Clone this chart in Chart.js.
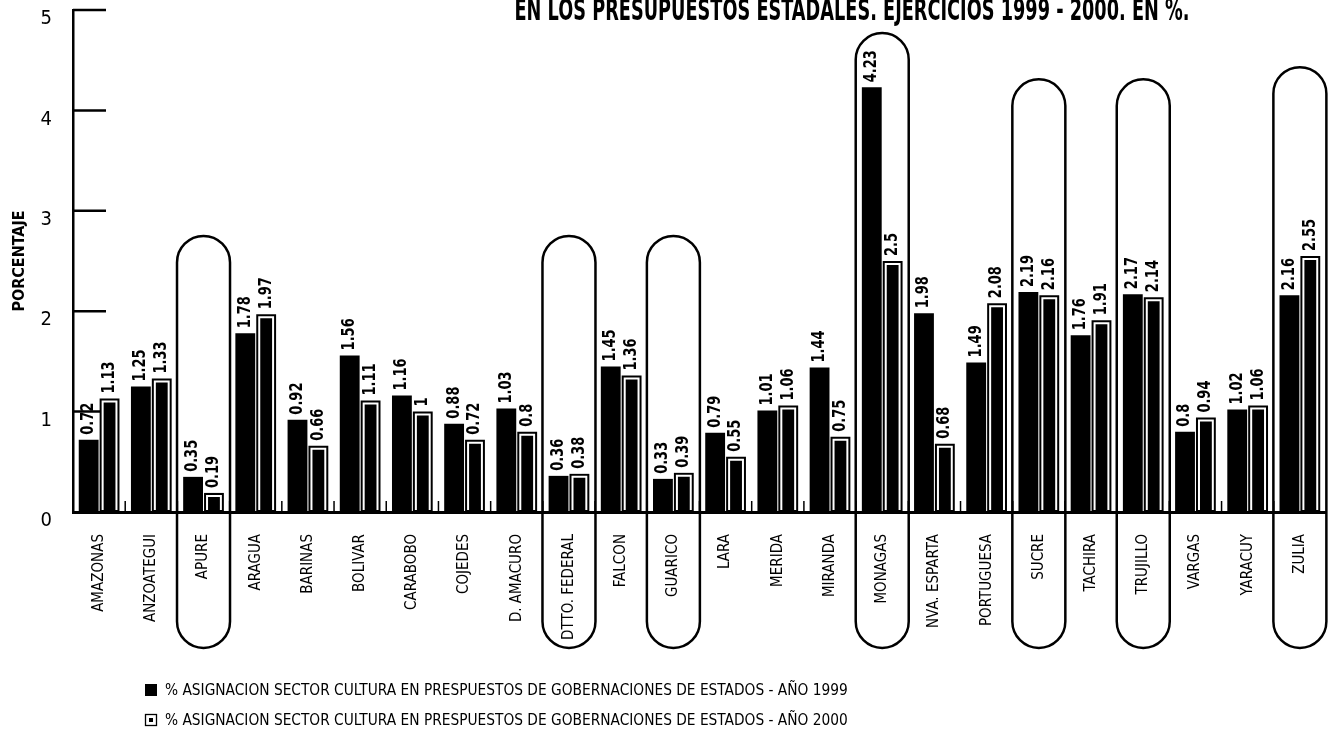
<!DOCTYPE html>
<html>
<head>
<meta charset="utf-8">
<script src="https://cdn.jsdelivr.net/npm/chart.js@4.4.1/dist/chart.umd.min.js"></script>
<style>
html,body{margin:0;padding:0;background:#fff;}
#wrap{position:relative;width:1332px;height:743px;overflow:hidden;}
</style>
</head>
<body>
<div id="wrap"><canvas id="c" width="1332" height="743"></canvas></div>
<script>
const categories = ['AMAZONAS','ANZOATEGUI','APURE','ARAGUA','BARINAS','BOLIVAR','CARABOBO','COJEDES','D. AMACURO','DTTO. FEDERAL','FALCON','GUARICO','LARA','MERIDA','MIRANDA','MONAGAS','NVA. ESPARTA','PORTUGUESA','SUCRE','TACHIRA','TRUJILLO','VARGAS','YARACUY','ZULIA'];
const values1999 = [0.72,1.25,0.35,1.78,0.92,1.56,1.16,0.88,1.03,0.36,1.45,0.33,0.79,1.01,1.44,4.23,1.98,1.49,2.19,1.76,2.17,0.8,1.02,2.16];
const values2000 = [1.13,1.33,0.19,1.97,0.66,1.11,1,0.72,0.8,0.38,1.36,0.39,0.55,1.06,0.75,2.5,0.68,2.08,2.16,1.91,2.14,0.94,1.06,2.55];
const yTicks = [0,1,2,3,4,5];
const highlighted = ['APURE','DTTO. FEDERAL','GUARICO','MONAGAS','SUCRE','TRUJILLO','ZULIA'];
const highlightTops = [2.75,2.75,2.75,4.77,4.31,4.31,4.43];
const seriesLabels = ['% ASIGNACION SECTOR CULTURA EN PRESPUESTOS DE GOBERNACIONES DE ESTADOS - AÑO 1999','% ASIGNACION SECTOR CULTURA EN PRESPUESTOS DE GOBERNACIONES DE ESTADOS - AÑO 2000'];
const titleText = 'EN LOS PRESUPUESTOS ESTADALES. EJERCICIOS 1999 - 2000. EN %.';
const yTitle = 'PORCENTAJE';

const NARROW = '"Liberation Sans Narrow", "Arial Narrow", "DejaVu Sans Condensed", sans-serif';

const decor = {
  id: 'decor',
  beforeDatasetsDraw(chart) {
    const ctx = chart.ctx, a = chart.chartArea;
    const ys = chart.scales.y, xs = chart.scales.x;
    ctx.save();
    ctx.strokeStyle = '#000';
    ctx.lineWidth = 2.5;
    yTicks.forEach(v => {
      if (v === 0) return;
      const y = ys.getPixelForValue(v);
      ctx.beginPath(); ctx.moveTo(a.left, y); ctx.lineTo(a.left + 33, y); ctx.stroke();
    });
    ctx.lineWidth = 1.5;
    for (let i = 0; i < categories.length - 1; i++) {
      const x = (xs.getPixelForValue(i) + xs.getPixelForValue(i + 1)) / 2;
      ctx.beginPath(); ctx.moveTo(x, a.bottom); ctx.lineTo(x, a.bottom - 11); ctx.stroke();
    }
    ctx.restore();
  },
  afterDatasetsDraw(chart) {
    const ctx = chart.ctx, a = chart.chartArea;
    const ys = chart.scales.y, xs = chart.scales.x;
    ctx.save();
    const m2 = chart.getDatasetMeta(1);
    ctx.strokeStyle = '#fff';
    ctx.lineWidth = 2;
    m2.data.forEach(el => {
      const p = el.getProps(['x','y','base','width'], true);
      const l = p.x - p.width / 2, t = p.y;
      ctx.beginPath();
      ctx.moveTo(l + 3, p.base - 2);
      ctx.lineTo(l + 3, t + 3);
      ctx.lineTo(l + p.width - 3, t + 3);
      ctx.lineTo(l + p.width - 3, p.base - 2);
      ctx.stroke();
    });
    ctx.fillStyle = '#000';
    ctx.font = 'bold 17px ' + NARROW;
    ctx.textAlign = 'left';
    ctx.textBaseline = 'middle';
    [0,1].forEach(di => {
      const meta = chart.getDatasetMeta(di);
      const vals = chart.data.datasets[di].data;
      meta.data.forEach((el, i) => {
        const p = el.getProps(['x','y'], true);
        ctx.save();
        ctx.translate(p.x, p.y - 5);
        ctx.rotate(-Math.PI / 2);
        ctx.scale(0.85, 1);
        ctx.fillText(String(vals[i]), 0, 0);
        ctx.restore();
      });
    });
    ctx.strokeStyle = '#000';
    ctx.lineWidth = 2.5;
    const r = 26.5;
    highlighted.forEach((name, k) => {
      const i = categories.indexOf(name);
      const cx = xs.getPixelForValue(i);
      const top = ys.getPixelForValue(highlightTops[k]);
      const bottom = a.bottom + 136;
      ctx.beginPath();
      ctx.moveTo(cx - r, top + r);
      ctx.arc(cx, top + r, r, Math.PI, 0, false);
      ctx.lineTo(cx + r, bottom - r);
      ctx.arc(cx, bottom - r, r, 0, Math.PI, false);
      ctx.closePath();
      ctx.stroke();
    });
    ctx.restore();
  },
  afterDraw(chart) {
    const ctx = chart.ctx;
    ctx.save();
    ctx.fillStyle = '#000';
    ctx.font = 'bold 30px ' + NARROW;
    ctx.textAlign = 'center';
    ctx.textBaseline = 'alphabetic';
    const w = ctx.measureText(titleText).width;
    ctx.translate(852, 20);
    ctx.scale(675 / w, 1);
    ctx.fillText(titleText, 0, 0);
    ctx.restore();
    ctx.save();
    ctx.fillStyle = '#000';
    ctx.strokeStyle = '#000';
    ctx.font = '15.3px ' + NARROW;
    ctx.textAlign = 'left';
    ctx.textBaseline = 'middle';
    const rows = [690, 720];
    chart.data.datasets.forEach((ds, i) => {
      const y = rows[i];
      if (i === 0) {
        ctx.fillRect(145, y - 6, 12, 12);
      } else {
        ctx.lineWidth = 1.3;
        ctx.strokeRect(145.5, y - 5.5, 11, 11);
        ctx.fillRect(149, y - 2, 4, 4);
      }
      ctx.fillText(ds.label, 165, y + 1);
    });
    ctx.restore();
  }
};

new Chart(document.getElementById('c'), {
  type: 'bar',
  data: {
    labels: categories,
    datasets: [
      { label: seriesLabels[0], data: values1999, backgroundColor: '#000', borderWidth: 0, barPercentage: 0.95, categoryPercentage: 0.8 },
      { label: seriesLabels[1], data: values2000, backgroundColor: '#000', borderWidth: 0, barPercentage: 0.95, categoryPercentage: 0.8 }
    ]
  },
  options: {
    responsive: false,
    devicePixelRatio: 1,
    animation: false,
    layout: { padding: { top: 10, right: 6, left: 0, bottom: 0 } },
    plugins: { legend: { display: false }, tooltip: { enabled: false }, title: { display: false } },
    scales: {
      x: {
        type: 'category',
        offset: true,
        grid: { display: false },
        border: { display: true, color: '#000', width: 3 },
        ticks: { autoSkip: false, maxRotation: 90, minRotation: 90, color: '#000', padding: 14, font: { family: NARROW, size: 15 } },
        afterFit(s) { s.height = 231; }
      },
      y: {
        min: 0, max: 5,
        grid: { display: false },
        border: { display: true, color: '#000', width: 2.5 },
        afterBuildTicks(s) { s.ticks = yTicks.map(v => ({ value: v })); },
        ticks: { color: '#000', padding: 13, labelOffset: 9, font: { family: NARROW, size: 20 } },
        title: { display: true, text: yTitle, color: '#000', padding: { top: 10, bottom: 0 }, font: { family: NARROW, size: 16, weight: 'bold' } },
        afterFit(s) { s.width = 73; s.paddingTop = 0; s.paddingBottom = 0; }
      }
    }
  },
  plugins: [decor]
});
</script>
</body>
</html>
